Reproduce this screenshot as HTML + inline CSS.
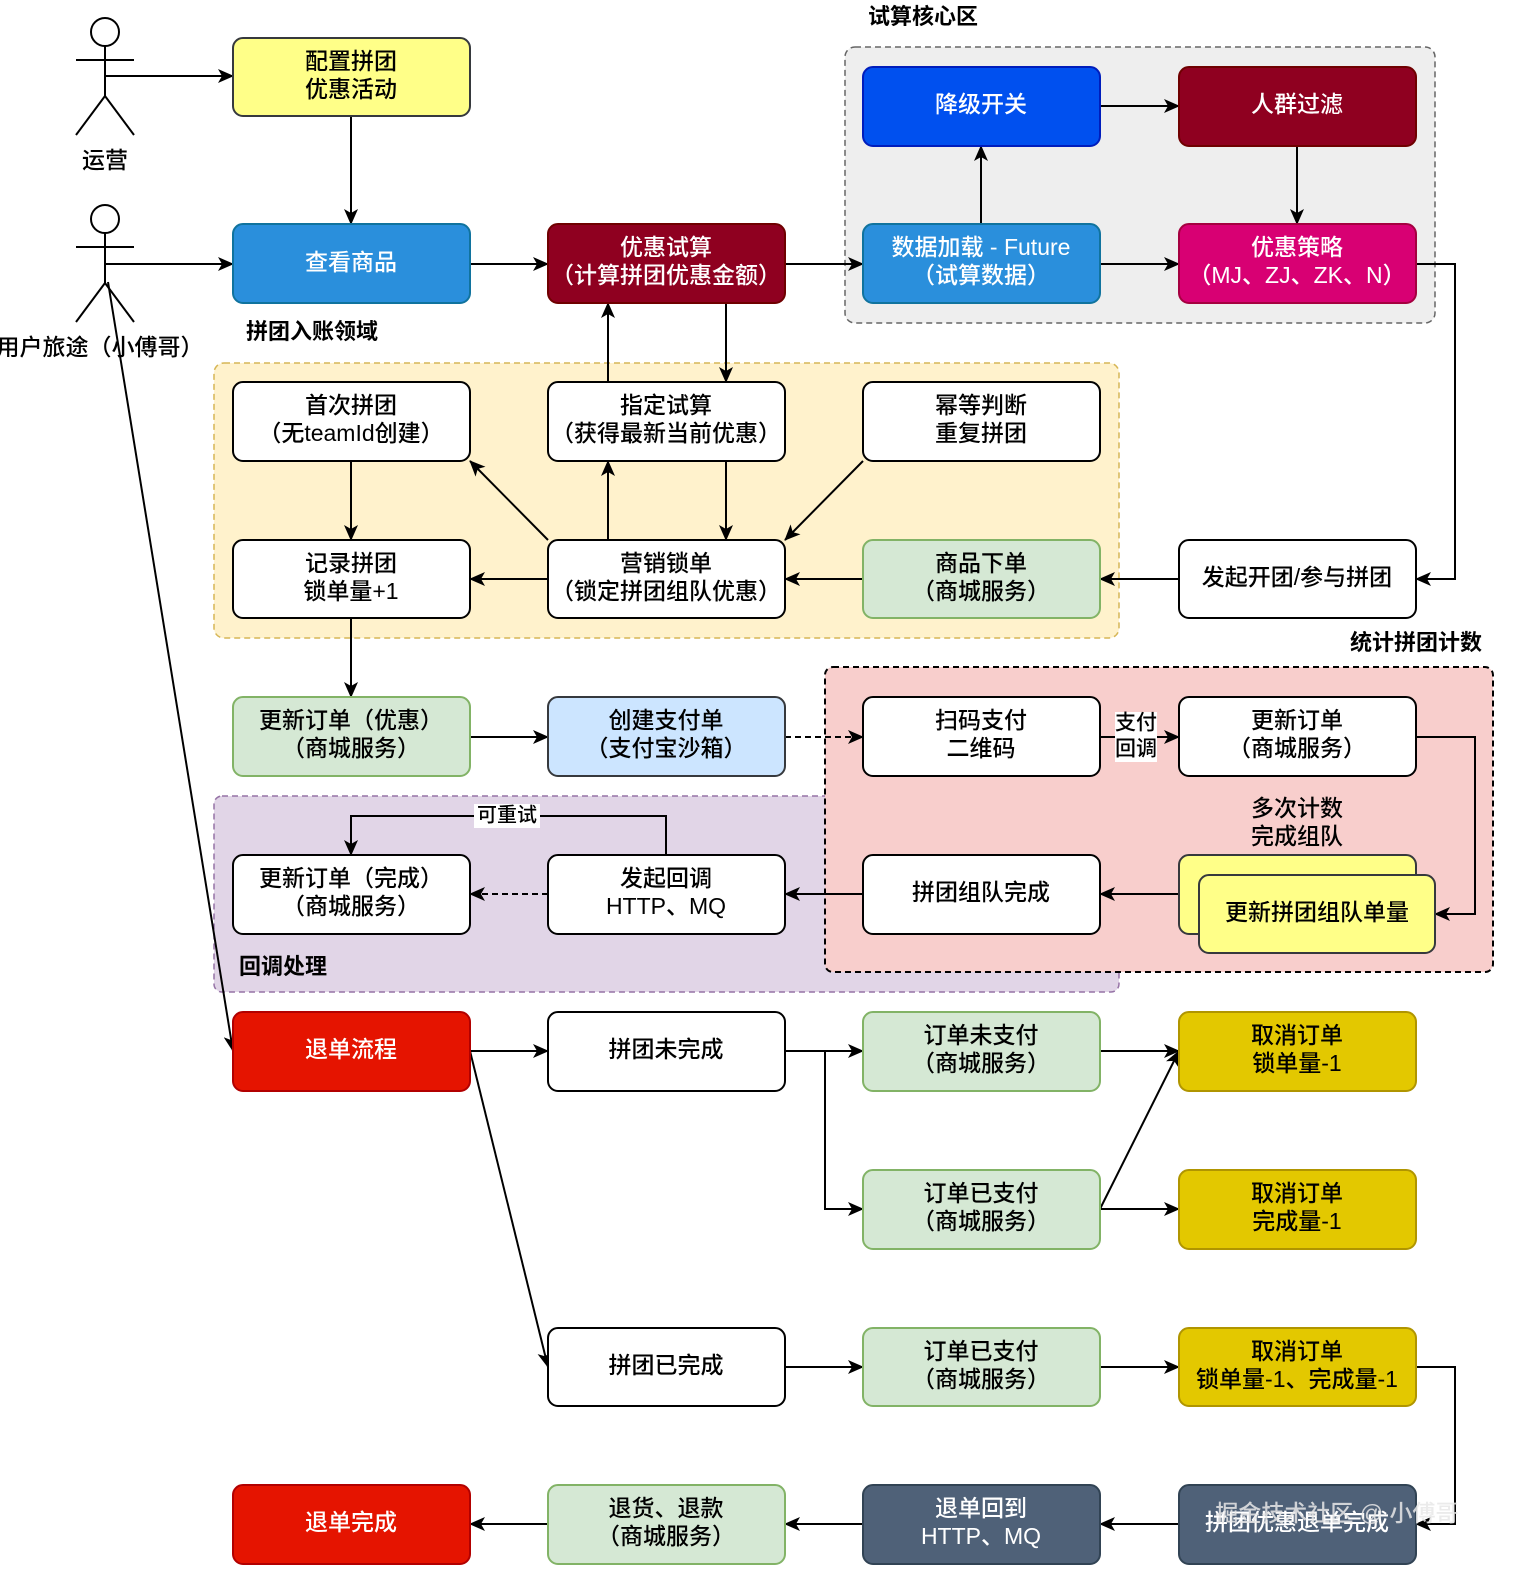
<!DOCTYPE html>
<html><head><meta charset="utf-8"><style>
html,body{margin:0;padding:0;background:#fff;}
svg{display:block;}
text{font-family:"Liberation Sans","Noto Sans CJK SC",sans-serif;font-size:23px;font-weight:500;text-anchor:middle;dominant-baseline:middle;}
</style></head><body>
<svg width="1530" height="1592" viewBox="0 0 1530 1592" xmlns="http://www.w3.org/2000/svg">
<defs>
<marker id="a" viewBox="0 0 16 14" refX="15" refY="7" markerWidth="16" markerHeight="14" markerUnits="userSpaceOnUse" orient="auto"><path d="M0,0 L16,7 L0,14 L4,7 z" fill="#000"/></marker>
</defs>
<!-- containers -->
<rect x="845" y="47" width="590" height="276" rx="10" fill="#eeeeee" stroke="#666" stroke-width="1.5" stroke-dasharray="6,4"/>
<rect x="214" y="363" width="905" height="275" rx="10" fill="#fff2cc" stroke="#d6b656" stroke-width="1.5" stroke-dasharray="6,4"/>
<rect x="214" y="796" width="905" height="196" rx="8" fill="#e1d5e7" stroke="#9673a6" stroke-width="1.5" stroke-dasharray="6,4"/>
<rect x="825" y="667" width="668" height="305" rx="8" fill="#f8cecc" stroke="#000" stroke-width="2" stroke-dasharray="6,4"/>
<text x="923" y="18" style="font-weight:bold;font-size:22px">试算核心区</text>
<text x="312" y="333" style="font-weight:bold;font-size:22px">拼团入账领域</text>
<text x="1416" y="644" style="font-weight:bold;font-size:22px">统计拼团计数</text>
<text x="283" y="968" style="font-weight:bold;font-size:22px">回调处理</text>
<!-- actors -->
<g stroke="#000" stroke-width="2" fill="none">
<circle cx="105" cy="32" r="14" fill="#fff"/><line x1="105" y1="46" x2="105" y2="96"/><line x1="76" y1="60" x2="134" y2="60"/><line x1="105" y1="96" x2="76" y2="135"/><line x1="105" y1="96" x2="134" y2="135"/>
<circle cx="105" cy="219" r="14" fill="#fff"/><line x1="105" y1="233" x2="105" y2="283"/><line x1="76" y1="247" x2="134" y2="247"/><line x1="105" y1="283" x2="76" y2="322"/><line x1="105" y1="283" x2="134" y2="322"/>
</g>
<text x="105" y="162">运营</text>
<text x="100" y="349">用户旅途（小傅哥）</text>
<!-- edges -->
<g stroke="#000" stroke-width="2" fill="none" marker-end="url(#a)">
<path d="M105,76 H233"/><path d="M351,116 V224"/><path d="M105,264 H233"/>
<path d="M470,264 H548"/><path d="M785,264 H863"/><path d="M981,224 V146"/>
<path d="M1100,106 H1179"/><path d="M1297,146 V224"/><path d="M1100,264 H1179"/>
<path d="M1416,264 H1455 V579 H1416"/><path d="M1179,579 H1100"/><path d="M863,579 H785"/>
<path d="M548,579 H470"/><path d="M608,540 V461"/><path d="M608,382 V303"/>
<path d="M726,303 V382"/><path d="M726,461 V540"/><path d="M548,540 L470,461"/>
<path d="M863,461 L785,540"/><path d="M351,461 V540"/><path d="M351,618 V697"/>
<path d="M470,737 H548"/><path d="M785,737 H863" stroke-dasharray="6,4"/>
<path d="M1100,737 H1179"/><path d="M1416,737 H1475 V914 H1435"/>
<path d="M1179,894 H1100"/><path d="M863,894 H785"/><path d="M548,894 H470" stroke-dasharray="6,4"/>
<path d="M666,855 V816 H351 V855"/>
<path d="M108,282 L233,1051"/>
<path d="M470,1051 H548"/><path d="M785,1051 H863"/><path d="M825,1051 V1209 H863"/>
<path d="M1100,1051 H1179"/><path d="M1100,1209 L1179,1051"/><path d="M1100,1209 H1179"/>
<path d="M470,1051 L548,1367"/><path d="M785,1367 H863"/><path d="M1100,1367 H1179"/>
<path d="M1416,1367 H1455 V1524 H1416"/><path d="M1179,1524 H1100"/><path d="M863,1524 H785"/><path d="M548,1524 H470"/>
</g>
<rect x="1115" y="712" width="42" height="50" fill="#fff"/>
<text x="1136" y="724" style="font-size:21px">支付</text><text x="1136" y="750" style="font-size:21px">回调</text>
<rect x="474" y="804" width="66" height="24" fill="#fff"/>
<text x="507" y="816" style="font-size:20px">可重试</text>
<text x="1297" y="810">多次计数</text><text x="1297" y="838">完成组队</text>
<!-- nodes -->
<g stroke-width="2">
<rect x="233" y="38" width="237" height="78" rx="10" fill="#ffff88" stroke="#36393d"/>
<rect x="233" y="224" width="237" height="79" rx="10" fill="#2a8fdc" stroke="#10739e"/>
<rect x="548" y="224" width="237" height="79" rx="10" fill="#8f0020" stroke="#6f0000"/>
<rect x="863" y="67" width="237" height="79" rx="10" fill="#0050ef" stroke="#001dbc"/>
<rect x="1179" y="67" width="237" height="79" rx="10" fill="#8f0020" stroke="#6f0000"/>
<rect x="863" y="224" width="237" height="79" rx="10" fill="#2a8fdc" stroke="#10739e"/>
<rect x="1179" y="224" width="237" height="79" rx="10" fill="#d80073" stroke="#a50040"/>
<rect x="233" y="382" width="237" height="79" rx="10" fill="#fff" stroke="#000"/>
<rect x="548" y="382" width="237" height="79" rx="10" fill="#fff" stroke="#000"/>
<rect x="863" y="382" width="237" height="79" rx="10" fill="#fff" stroke="#000"/>
<rect x="233" y="540" width="237" height="78" rx="10" fill="#fff" stroke="#000"/>
<rect x="548" y="540" width="237" height="78" rx="10" fill="#fff" stroke="#000"/>
<rect x="863" y="540" width="237" height="78" rx="10" fill="#d5e8d4" stroke="#82b366"/>
<rect x="1179" y="540" width="237" height="78" rx="10" fill="#fff" stroke="#000"/>
<rect x="233" y="697" width="237" height="79" rx="10" fill="#d5e8d4" stroke="#82b366"/>
<rect x="548" y="697" width="237" height="79" rx="10" fill="#cce5ff" stroke="#36393d"/>
<rect x="863" y="697" width="237" height="79" rx="10" fill="#fff" stroke="#000"/>
<rect x="1179" y="697" width="237" height="79" rx="10" fill="#fff" stroke="#000"/>
<rect x="233" y="855" width="237" height="79" rx="10" fill="#fff" stroke="#000"/>
<rect x="548" y="855" width="237" height="79" rx="10" fill="#fff" stroke="#000"/>
<rect x="863" y="855" width="237" height="79" rx="10" fill="#fff" stroke="#000"/>
<rect x="1179" y="855" width="237" height="79" rx="10" fill="#ffff88" stroke="#36393d"/>
<rect x="1199" y="875" width="236" height="78" rx="10" fill="#ffff88" stroke="#36393d"/>
<rect x="233" y="1012" width="237" height="79" rx="10" fill="#e51400" stroke="#b20000"/>
<rect x="548" y="1012" width="237" height="79" rx="10" fill="#fff" stroke="#000"/>
<rect x="863" y="1012" width="237" height="79" rx="10" fill="#d5e8d4" stroke="#82b366"/>
<rect x="1179" y="1012" width="237" height="79" rx="10" fill="#e3c800" stroke="#b09500"/>
<rect x="863" y="1170" width="237" height="79" rx="10" fill="#d5e8d4" stroke="#82b366"/>
<rect x="1179" y="1170" width="237" height="79" rx="10" fill="#e3c800" stroke="#b09500"/>
<rect x="548" y="1328" width="237" height="78" rx="10" fill="#fff" stroke="#000"/>
<rect x="863" y="1328" width="237" height="78" rx="10" fill="#d5e8d4" stroke="#82b366"/>
<rect x="1179" y="1328" width="237" height="78" rx="10" fill="#e3c800" stroke="#b09500"/>
<rect x="233" y="1485" width="237" height="79" rx="10" fill="#e51400" stroke="#b20000"/>
<rect x="548" y="1485" width="237" height="79" rx="10" fill="#d5e8d4" stroke="#82b366"/>
<rect x="863" y="1485" width="237" height="79" rx="10" fill="#4f6178" stroke="#314354"/>
<rect x="1179" y="1485" width="237" height="79" rx="10" fill="#4f6178" stroke="#314354"/>
</g>
<!-- node text -->
<text x="351" y="63">配置拼团</text><text x="351" y="91">优惠活动</text>
<text x="351" y="264" fill="#fff">查看商品</text>
<text x="666" y="249" fill="#fff">优惠试算</text><text x="666" y="277" fill="#fff">（计算拼团优惠金额）</text>
<text x="981" y="106" fill="#fff">降级开关</text>
<text x="1297" y="106" fill="#fff">人群过滤</text>
<text x="981" y="249" fill="#fff">数据加载 - Future</text><text x="981" y="277" fill="#fff">（试算数据）</text>
<text x="1297" y="249" fill="#fff">优惠策略</text><text x="1297" y="277" fill="#fff">（MJ、ZJ、ZK、N）</text>
<text x="351" y="407">首次拼团</text><text x="351" y="435">（无teamId创建）</text>
<text x="666" y="407">指定试算</text><text x="666" y="435">（获得最新当前优惠）</text>
<text x="981" y="407">幂等判断</text><text x="981" y="435">重复拼团</text>
<text x="351" y="565">记录拼团</text><text x="351" y="593">锁单量+1</text>
<text x="666" y="565">营销锁单</text><text x="666" y="593">（锁定拼团组队优惠）</text>
<text x="981" y="565">商品下单</text><text x="981" y="593">（商城服务）</text>
<text x="1297" y="579">发起开团/参与拼团</text>
<text x="351" y="722">更新订单（优惠）</text><text x="351" y="750">（商城服务）</text>
<text x="666" y="722">创建支付单</text><text x="666" y="750">（支付宝沙箱）</text>
<text x="981" y="722">扫码支付</text><text x="981" y="750">二维码</text>
<text x="1297" y="722">更新订单</text><text x="1297" y="750">（商城服务）</text>
<text x="351" y="880">更新订单（完成）</text><text x="351" y="908">（商城服务）</text>
<text x="666" y="880">发起回调</text><text x="666" y="908">HTTP、MQ</text>
<text x="981" y="894">拼团组队完成</text>
<text x="1317" y="914">更新拼团组队单量</text>
<text x="351" y="1051" fill="#fff">退单流程</text>
<text x="666" y="1051">拼团未完成</text>
<text x="981" y="1037">订单未支付</text><text x="981" y="1065">（商城服务）</text>
<text x="1297" y="1037">取消订单</text><text x="1297" y="1065">锁单量-1</text>
<text x="981" y="1195">订单已支付</text><text x="981" y="1223">（商城服务）</text>
<text x="1297" y="1195">取消订单</text><text x="1297" y="1223">完成量-1</text>
<text x="666" y="1367">拼团已完成</text>
<text x="981" y="1353">订单已支付</text><text x="981" y="1381">（商城服务）</text>
<text x="1297" y="1353">取消订单</text><text x="1297" y="1381">锁单量-1、完成量-1</text>
<text x="351" y="1524" fill="#fff">退单完成</text>
<text x="666" y="1510">退货、退款</text><text x="666" y="1538">（商城服务）</text>
<text x="981" y="1510" fill="#fff">退单回到</text><text x="981" y="1538" fill="#fff">HTTP、MQ</text>
<text x="1297" y="1524" fill="#fff">拼团优惠退单完成</text>
<text x="1337" y="1515" fill="#e8e8e8" opacity="0.85">掘金技术社区 @ 小傅哥</text>
</svg>
</body></html>
